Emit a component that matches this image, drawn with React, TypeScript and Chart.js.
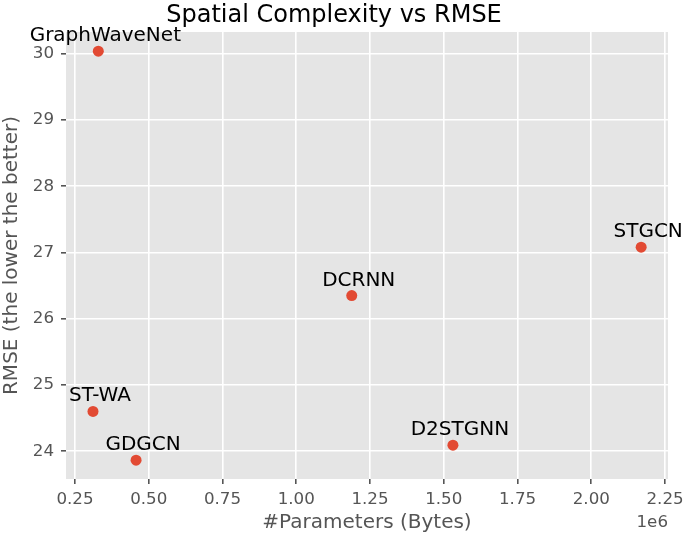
import React, { useEffect, useRef } from "react";
import { Chart, registerables } from "chart.js";

Chart.register(...registerables);

const modelNames = ["GraphWaveNet", "STGCN", "DCRNN", "ST-WA", "GDGCN", "D2STGNN"];
const paramCounts = [329000, 2169000, 1188000, 311000, 457000, 1531000];
const rmseValues = [30.04, 27.08, 26.35, 24.6, 23.865, 24.09];
const xTickValues = [250000, 500000, 750000, 1000000, 1250000, 1500000, 1750000, 2000000, 2250000];
const yTickValues = [24, 25, 26, 27, 28, 29, 30];

const FONT = '"DejaVu Sans", sans-serif';

const bgPlugin = {
  id: "bgPlugin",
  beforeDraw(chart: any) {
    const { ctx, chartArea } = chart;
    ctx.save();
    ctx.fillStyle = "#E5E5E5";
    ctx.fillRect(chartArea.left, chartArea.top, chartArea.right - chartArea.left, chartArea.bottom - chartArea.top);
    ctx.restore();
  },
};

const labelPlugin = {
  id: "labelPlugin",
  afterDatasetsDraw(chart: any) {
    const { ctx } = chart;
    const meta = chart.getDatasetMeta(0);
    ctx.save();
    ctx.font = `20px ${FONT}`;
    ctx.fillStyle = "#000000";
    ctx.textAlign = "center";
    ctx.textBaseline = "alphabetic";
    meta.data.forEach((pt: any, i: number) => {
      ctx.fillText(modelNames[i], pt.x + 7, pt.y - 10);
    });
    const xs = chart.scales.x;
    ctx.font = `16.7px ${FONT}`;
    ctx.fillStyle = "#555555";
    ctx.textAlign = "right";
    ctx.textBaseline = "middle";
    ctx.fillText("1e6", xs.right, 523);
    ctx.restore();
  },
};

export default function App() {
  const ref = useRef<HTMLCanvasElement>(null);
  useEffect(() => {
    if (!ref.current) return;
    const chart = new Chart(ref.current, {
      type: "scatter",
      data: {
        datasets: [
          {
            data: paramCounts.map((x, i) => ({ x, y: rmseValues[i] })),
            backgroundColor: "#E24A33",
            borderWidth: 0,
            pointRadius: 5.5,
          },
        ],
      },
      options: {
        animation: false,
        responsive: false,
        layout: { padding: { left: 0, right: 16, top: 0, bottom: 0 } },
        plugins: {
          legend: { display: false },
          tooltip: { enabled: false },
          title: {
            display: true,
            text: "Spatial Complexity vs RMSE",
            color: "#000000",
            font: { family: FONT, size: 24, weight: "normal" },
            padding: { top: 1, bottom: 2.2 },
          },
        },
        scales: {
          x: {
            type: "linear",
            min: 219500,
            max: 2260000,
            afterFit(scale: any) {
              scale.height = 60;
              scale.paddingLeft = 0;
              scale.paddingRight = 0;
            },
            afterBuildTicks(scale: any) {
              scale.ticks = xTickValues.map((v) => ({ value: v }));
            },
            ticks: {
              color: "#555555",
              font: { family: FONT, size: 16.7 },
              padding: 6,
              maxRotation: 0,
              callback: (v: any) => (Number(v) / 1e6).toFixed(2),
            },
            grid: { color: "#FFFFFF", lineWidth: 1.6, tickColor: "#555555", tickLength: 5 },
            border: { display: false },
            title: {
              display: true,
              text: "#Parameters (Bytes)",
              color: "#555555",
              font: { family: FONT, size: 20 },
              padding: { top: 0, bottom: 4 },
            },
          },
          y: {
            type: "linear",
            min: 23.58,
            max: 30.33,
            afterFit(scale: any) {
              scale.width = 66;
            },
            afterBuildTicks(scale: any) {
              scale.ticks = yTickValues.map((v) => ({ value: v }));
            },
            ticks: {
              color: "#555555",
              font: { family: FONT, size: 16.7 },
              padding: 7,
              callback: (v: any) => String(v),
            },
            grid: { color: "#FFFFFF", lineWidth: 1.6, tickColor: "#555555", tickLength: 5 },
            border: { display: false },
            title: {
              display: true,
              text: "RMSE (the lower the better)",
              color: "#555555",
              font: { family: FONT, size: 20 },
              padding: { top: 0, bottom: 0 },
            },
          },
        },
      },
      plugins: [bgPlugin, labelPlugin],
    });
    return () => chart.destroy();
  }, []);
  return (
    <div style={{ position: "fixed", left: 0, top: 0, width: 684, height: 539, background: "#FFFFFF" }}>
      <canvas ref={ref} width={684} height={539} style={{ display: "block" }} />
    </div>
  );
}
